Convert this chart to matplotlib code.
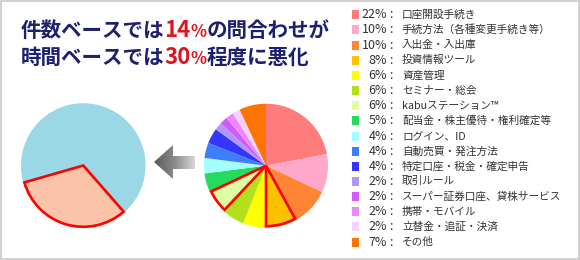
import matplotlib
matplotlib.use("Agg")
import matplotlib.pyplot as plt
import numpy as np
from matplotlib.offsetbox import TextArea, HPacker, AnnotationBbox
from matplotlib.patches import Polygon, Rectangle
from matplotlib.colors import LinearSegmentedColormap

plt.rcParams['font.family'] = ['Noto Sans CJK JP', 'DejaVu Sans']

# ---- data ----
pct_values = [22, 10, 10, 8, 6, 6, 6, 5, 4, 4, 4, 2, 2, 2, 2, 7]
labels = ["口座開設手続き", "手続方法（各種変更手続き等）", "入出金・入出庫", "投資情報ツール",
          "資産管理", "セミナー・総会", "kabuステーション™", "配当金・株主優待・権利確定等",
          "ログイン、ID", "自動売買・発注方法", "特定口座・税金・確定申告", "取引ルール",
          "スーパー証券口座、貸株サービス", "携帯・モバイル", "立替金・追証・決済", "その他"]
colors = ["#FF7C7C", "#FFA8CA", "#FF8535", "#FFC000", "#FFFF00", "#B2E01C", "#DCFFA4",
          "#24DC5C", "#A4FFFF", "#3F7DFF", "#3535FF", "#B296FF", "#D05CFF", "#EE88FF",
          "#F3D2FF", "#FF7400"]
highlight = [3, 6]  # 8% + 6% = 14% of inquiries

time_values = [32, 68]
time_colors = ["#FBC3A8", "#9AD8E6"]

title_line1 = [("件数ベースでは", "n"), ("14", "r"), ("%", "rs"), ("の問合わせが", "n")]
title_line2 = [("時間ベースでは", "n"), ("30", "r"), ("%", "rs"), ("程度に悪化", "n")]

W, H = 580, 260
fig = plt.figure(figsize=(W / 100, H / 100), dpi=100)
ax = fig.add_axes([0, 0, 1, 1])

def py(y):
    return H - y

# right pie (count based)
wedges, _ = ax.pie(pct_values, colors=colors, startangle=90, counterclock=False,
                   center=(266, py(165.7)), radius=62, frame=True,
                   wedgeprops=dict(linewidth=0))
# highlight outlines (slightly inset)
hw, _ = ax.pie(pct_values, colors=['none'] * len(pct_values), startangle=90, counterclock=False,
               center=(266, py(165.7)), radius=60.5, frame=True,
               wedgeprops=dict(linewidth=0))
for i, w in enumerate(hw):
    if i in highlight:
        w.set_edgecolor("#FF0000")
        w.set_linewidth(1.9)
        w.set_joinstyle('miter')
        w.set_zorder(3)
    else:
        w.set_visible(False)

# left pie (time based)
wl, _ = ax.pie(time_values, colors=time_colors, startangle=196, counterclock=True,
               center=(83.3, py(165.5)), radius=62.3, frame=True,
               wedgeprops=dict(linewidth=0))
wl2, _ = ax.pie(time_values, colors=['none', 'none'], startangle=196, counterclock=True,
                center=(83.3, py(165.5)), radius=61.3, frame=True,
                wedgeprops=dict(linewidth=0))
wl2[0].set_edgecolor("#FF0000")
wl2[0].set_linewidth(1.9)
wl2[0].set_zorder(3)
wl2[1].set_visible(False)

ax.set_xlim(0, W)
ax.set_ylim(0, H)
ax.set_aspect('equal')
ax.axis('off')

# frame
ax.add_patch(Rectangle((0.5, py(258.5)), 578, 258, fill=False, edgecolor="#C8C8C8", linewidth=1.2))

# arrow with gradient
arrow_pts = [(154, 162), (173, 145), (173, 156), (195, 156), (195, 169), (173, 169), (173, 179)]
arrow_poly = Polygon([(x, py(y)) for x, y in arrow_pts], closed=True, facecolor='none', edgecolor='none')
ax.add_patch(arrow_poly)
grad = np.linspace(0, 1, 256).reshape(1, -1)
cmap = LinearSegmentedColormap.from_list("g", ["#5a5a5a", "#8a8a8a", "#d8d8d8"])
im = ax.imshow(grad, cmap=cmap, extent=(154, 195, py(179), py(145)), aspect='auto', zorder=2)
im.set_clip_path(arrow_poly)
ax.set_xlim(0, W)
ax.set_ylim(0, H)

# title
navy = "#1D206E"
red = "#E0141E"
def make_line(parts):
    children = []
    for txt, kind in parts:
        if kind == "n":
            props = dict(color=navy, fontsize=14.8, fontweight='bold')
        elif kind == "r":
            props = dict(color=red, fontsize=16, fontweight='bold')
        else:
            props = dict(color=red, fontsize=12, fontweight='bold')
        children.append(TextArea(txt, textprops=props))
    return HPacker(children=children, pad=0, sep=0, align="baseline")

for parts, yc in [(title_line1, 30.5), (title_line2, 57.5)]:
    ab = AnnotationBbox(make_line(parts), (21, py(yc)), xycoords='data',
                        box_alignment=(0, 0.5), frameon=False, pad=0)
    ax.add_artist(ab)

# legend
y0, dy = 14.8, 15.15
for i, (v, lab, c) in enumerate(zip(pct_values, labels, colors)):
    yc = y0 + i * dy
    ax.add_patch(Rectangle((352, py(yc + 4.5)), 7, 9, facecolor=c, edgecolor='none'))
    ax.text(387, py(yc), f"{v}%", ha='right', va='center', fontsize=9, color="#333333")
    ax.text(389.5, py(yc), ":", ha='left', va='center', fontsize=9, color="#333333")
    ax.text(402, py(yc), lab, ha='left', va='center', fontsize=7.7, color="#333333")

fig.savefig("out.png", dpi=100)
